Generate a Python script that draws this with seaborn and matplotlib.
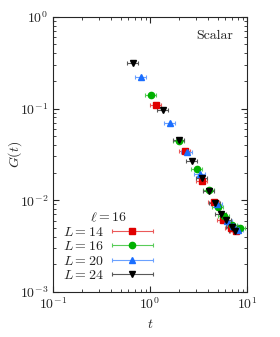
import matplotlib
matplotlib.use('Agg')
import matplotlib.pyplot as plt
from matplotlib.colors import to_rgb
from matplotlib.legend_handler import HandlerErrorbar
import seaborn as sns
import numpy as np

# Data
t_L14 = [1.16, 2.30, 3.46, 4.57, 5.70, 6.79, 7.70]
G_L14 = [0.108, 0.0348, 0.0163, 0.00953, 0.00611, 0.00497, 0.00456]

t_L16 = [1.02, 2.00, 3.03, 4.06, 5.06, 5.83, 7.00, 8.47]
G_L16 = [0.140, 0.0445, 0.0218, 0.0130, 0.00847, 0.00664, 0.00540, 0.00497]

t_L20 = [0.808, 1.62, 2.42, 3.28, 4.87, 6.18, 7.22, 8.13]
G_L20 = [0.218, 0.0698, 0.0335, 0.0194, 0.00898, 0.00586, 0.00517, 0.00475]

t_L24 = [0.673, 1.35, 2.00, 2.71, 3.41, 4.06, 4.68, 5.43, 6.08, 6.95, 7.52]
G_L24 = [0.313, 0.0975, 0.0456, 0.0269, 0.0174, 0.0127, 0.0092, 0.00711, 0.00601, 0.00509, 0.00464]

series = [
    ("$L = 14$", t_L14, G_L14, "#e00000", "s"),
    ("$L = 16$", t_L16, G_L16, "#00b000", "o"),
    ("$L = 20$", t_L20, G_L20, "#1a6eff", "^"),
    ("$L = 24$", t_L24, G_L24, "#000000", "v"),
]
rel_terr = 0.13


def lighten(c, f=0.35):
    r, g, b = to_rgb(c)
    return (r + (1 - r) * f, g + (1 - g) * f, b + (1 - b) * f)


sns.set_style("ticks")
plt.rcParams['font.family'] = 'serif'
plt.rcParams['font.serif'] = ['cmr10', 'DejaVu Serif']
plt.rcParams['mathtext.fontset'] = 'cm'
plt.rcParams['axes.formatter.use_mathtext'] = True
plt.rcParams['font.size'] = 10

fig = plt.figure(figsize=(2.8, 3.37), dpi=100)
ax = fig.add_axes([0.189, 0.134, 0.693, 0.816])

for label, t, g, col, mk in series:
    t = np.array(t)
    ax.errorbar(t, g, xerr=rel_terr * t, fmt=mk, color=col, ecolor=lighten(col),
                ms=4.5, elinewidth=0.8, capsize=1.5, capthick=0.8,
                label=label)

ax.set_xscale('log')
ax.set_yscale('log')
ax.set_xlim(0.1, 10)
ax.set_ylim(1e-3, 1)
ax.set_xlabel('$t$')
ax.set_ylabel('$G(t)$')
ax.yaxis.set_label_coords(-0.15, 0.5)
ax.tick_params(which='both', direction='in', top=True, right=True)
ax.tick_params(which='major', length=4)
ax.tick_params(which='minor', length=2)
for s in ax.spines.values():
    s.set_linewidth(0.8)

ax.text(0.93, 0.93, 'Scalar', transform=ax.transAxes, ha='right', va='center')

leg = ax.legend(loc='lower left', frameon=False, markerfirst=False,
                handlelength=3.0, title=r'$\ell = 16$', labelspacing=0.1,
                borderaxespad=0.4, handletextpad=0.6, borderpad=0.3,
                handler_map={type(ax.containers[0]): HandlerErrorbar(xerr_size=1.5)})
leg.get_title().set_fontsize(10)

fig.savefig('out.png', dpi=100)
